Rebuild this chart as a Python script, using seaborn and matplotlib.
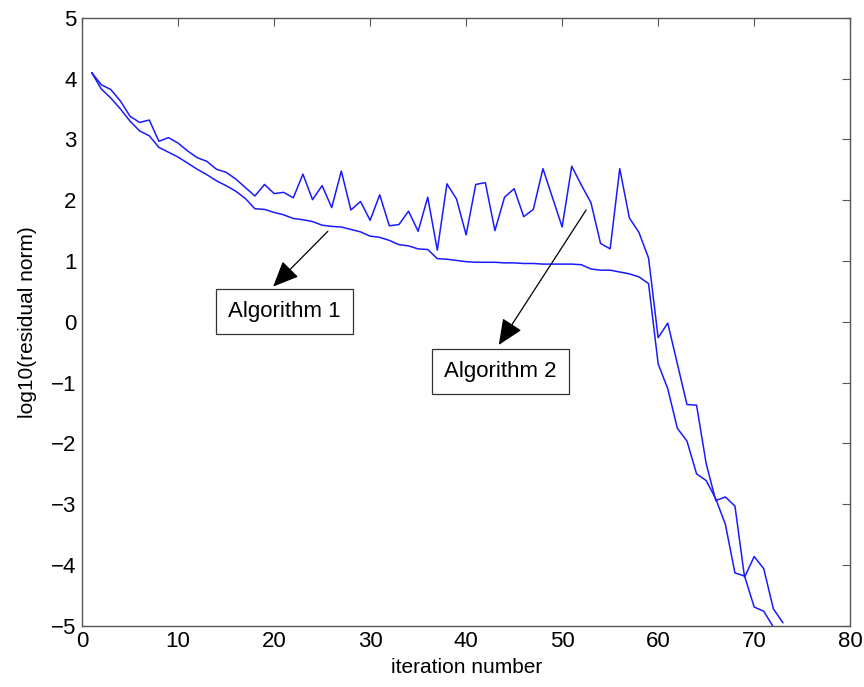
import pandas as pd
import matplotlib
matplotlib.use('Agg')
import matplotlib.pyplot as plt
import seaborn as sns

# Residual history
alg2_resid = [4.10, 3.90, 3.82, 3.63, 3.38, 3.28, 3.32, 2.97, 3.03, 2.94,
              2.81, 2.70, 2.64, 2.51, 2.46, 2.35, 2.21, 2.07, 2.26, 2.11,
              2.13, 2.04, 2.43, 2.01, 2.24, 1.88, 2.48, 1.84, 1.98, 1.67,
              2.09, 1.58, 1.60, 1.82, 1.49, 2.05, 1.18, 2.27, 2.02, 1.43,
              2.26, 2.29, 1.50, 2.05, 2.19, 1.73, 1.85, 2.52, 2.04, 1.56,
              2.56, 2.25, 1.96, 1.29, 1.20, 2.52, 1.71, 1.47, 1.05, -0.26,
              -0.02, -0.69, -1.36, -1.37, -2.33, -2.94, -2.88, -3.03, -4.20, -3.86,
              -4.06, -4.72, -4.95]
alg1_resid = [4.10, 3.83, 3.68, 3.50, 3.30, 3.14, 3.06, 2.87, 2.79, 2.71,
              2.61, 2.51, 2.42, 2.32, 2.24, 2.15, 2.03, 1.86, 1.85, 1.80,
              1.76, 1.70, 1.68, 1.65, 1.59, 1.57, 1.56, 1.52, 1.48, 1.41,
              1.39, 1.34, 1.27, 1.25, 1.20, 1.19, 1.04, 1.03, 1.01, 0.99,
              0.98, 0.98, 0.98, 0.97, 0.97, 0.96, 0.96, 0.95, 0.95, 0.95,
              0.95, 0.94, 0.87, 0.85, 0.85, 0.82, 0.79, 0.74, 0.63, -0.69,
              -1.10, -1.75, -1.96, -2.50, -2.61, -2.91, -3.33, -4.13, -4.18, -4.69,
              -4.76, -5.02]
alg2_iter = list(range(1, len(alg2_resid) + 1))
alg1_iter = list(range(1, len(alg1_resid) + 1))

df1 = pd.DataFrame({'iter': alg1_iter, 'resid': alg1_resid})
df2 = pd.DataFrame({'iter': alg2_iter, 'resid': alg2_resid})

sns.set_style('white')
plt.rcParams['font.family'] = ['Liberation Sans', 'DejaVu Sans']
plt.rcParams['text.color'] = 'black'
plt.rcParams['axes.labelcolor'] = 'black'
plt.rcParams['xtick.color'] = 'black'
plt.rcParams['ytick.color'] = 'black'

fig = plt.figure(figsize=(8.64, 6.87), dpi=100)
ax = fig.add_axes([0.095, 0.089, 0.889, 0.885])

sns.lineplot(x='iter', y='resid', data=df1, color='#1a1aff', linewidth=1.1, ax=ax)
sns.lineplot(x='iter', y='resid', data=df2, color='#1a1aff', linewidth=1.1, ax=ax)

ax.set_xlim(0, 80)
ax.set_ylim(-5, 5)
ax.set_xticks(range(0, 81, 10))
ax.set_yticks(range(-5, 6))
ax.set_xlabel('iteration number', fontsize=15, labelpad=4)
ax.set_ylabel('log10(residual norm)', fontsize=15, labelpad=10)
ax.tick_params(direction='in', length=6, width=0.8, color='#555555',
               labelcolor='black', labelsize=16, top=True, right=True, pad=4)
for s in ax.spines.values():
    s.set_color('#555555')
    s.set_linewidth(1.0)

# annotation arrows and boxes
arrow = dict(arrowstyle='-|>,head_length=0.8,head_width=0.35', color='black',
             lw=0.9, mutation_scale=20, shrinkA=0, shrinkB=0)
ax.annotate('', xy=(19.9, 0.58), xytext=(25.6, 1.49), arrowprops=arrow)
ax.annotate('', xy=(43.4, -0.38), xytext=(52.5, 1.84), arrowprops=arrow)

box = dict(boxstyle='square,pad=0.55', fc='white', ec='#333333', lw=0.9)
ax.text(21.1, 0.17, 'Algorithm 1', fontsize=16, ha='center', va='center', bbox=box)
ax.text(43.6, -0.82, 'Algorithm 2', fontsize=16, ha='center', va='center', bbox=box)

fig.savefig('out.png', dpi=100)
